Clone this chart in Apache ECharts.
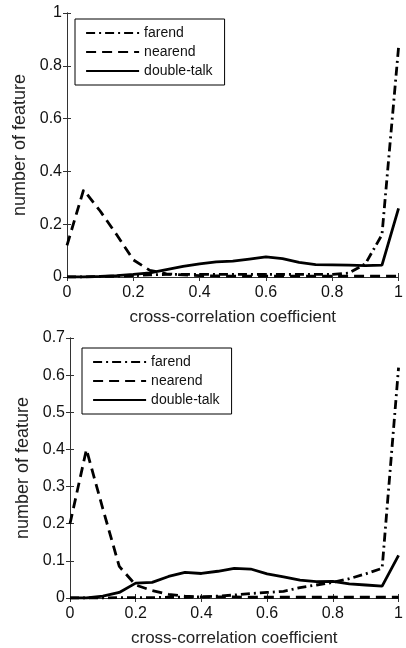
<!DOCTYPE html>
<html>
<head>
<meta charset="utf-8">
<script src="https://cdn.jsdelivr.net/npm/echarts@6/dist/echarts.min.js"></script>
<style>
  html, body { margin: 0; padding: 0; background: #fff; }
  #chart { width: 406px; height: 648px; }
</style>
</head>
<body>
<div id="chart"></div>
<script>
var coefX = [0, 0.05, 0.1, 0.15, 0.2, 0.25, 0.3, 0.35, 0.4, 0.45, 0.5, 0.55, 0.6, 0.65, 0.7, 0.75, 0.8, 0.85, 0.9, 0.95, 1];

// upper panel
var farendTop = [0, 0, 0.002, 0.003, 0.005, 0.008, 0.01, 0.01, 0.01, 0.01, 0.01, 0.01, 0.01, 0.01, 0.01, 0.01, 0.01, 0.015, 0.05, 0.16, 0.87];
var nearendTop = [0.12, 0.33, 0.25, 0.16, 0.065, 0.025, 0.012, 0.008, 0.005, 0.004, 0.003, 0.003, 0.003, 0.003, 0.003, 0.003, 0.003, 0.003, 0.003, 0.003, 0.003];
var doubleTop = [0, 0, 0.002, 0.005, 0.01, 0.016, 0.028, 0.04, 0.05, 0.057, 0.06, 0.068, 0.076, 0.07, 0.055, 0.047, 0.046, 0.045, 0.043, 0.045, 0.26];

// lower panel
var farendBot = [0, 0, 0, 0.001, 0.001, 0.001, 0.002, 0.002, 0.003, 0.005, 0.008, 0.012, 0.015, 0.018, 0.028, 0.035, 0.042, 0.052, 0.065, 0.08, 0.62];
var nearendBot = [0.2, 0.4, 0.24, 0.085, 0.035, 0.02, 0.01, 0.005, 0.003, 0.003, 0.003, 0.002, 0.002, 0.002, 0.002, 0.002, 0.002, 0.002, 0.002, 0.002, 0.002];
var doubleBot = [0, 0, 0.005, 0.015, 0.04, 0.042, 0.058, 0.069, 0.066, 0.072, 0.08, 0.078, 0.065, 0.057, 0.048, 0.044, 0.045, 0.038, 0.035, 0.032, 0.115];

var legendNames = ['farend', 'nearend', 'double-talk'];

function pairs(ys) {
    var out = [];
    for (var i = 0; i < coefX.length; i++) {
        out.push([coefX[i], ys[i]]);
    }
    return out;
}

var fontName = '"Liberation Sans", Arial, sans-serif';
var axisColor = '#333';

function bottomAxis(grid) {
    return {
        type: 'value', gridIndex: grid, min: 0, max: 1, interval: 0.2,
        name: 'cross-correlation coefficient', nameLocation: 'middle', nameGap: 32,
        nameTextStyle: { fontFamily: fontName, fontSize: 17, color: '#222' },
        axisLine: { lineStyle: { color: axisColor, width: 1 } },
        axisTick: { inside: true, length: 4, lineStyle: { color: axisColor } },
        axisLabel: { margin: 8, fontFamily: fontName, fontSize: 16, color: '#111' },
        splitLine: { show: false }
    };
}

function topAxis(grid) {
    return {
        type: 'value', gridIndex: grid, position: 'top', min: 0, max: 1, interval: 0.2,
        axisLine: { lineStyle: { color: axisColor, width: 1 } },
        axisTick: { inside: true, length: 4, lineStyle: { color: axisColor } },
        axisLabel: { show: false },
        splitLine: { show: false }
    };
}

function leftAxis(grid, max, step) {
    return {
        type: 'value', gridIndex: grid, min: 0, max: max, interval: step,
        name: 'number of feature', nameLocation: 'middle', nameGap: 30,
        nameTextStyle: { fontFamily: fontName, fontSize: 18, color: '#222' },
        axisLine: { show: true, lineStyle: { color: axisColor, width: 1 } },
        axisTick: { show: true, inside: true, length: 4, lineStyle: { color: axisColor } },
        axisLabel: { margin: 5, fontFamily: fontName, fontSize: 16, color: '#111' },
        splitLine: { show: false }
    };
}

function rightAxis(grid, max, step) {
    return {
        type: 'value', gridIndex: grid, position: 'right', min: 0, max: max, interval: step,
        axisLine: { show: true, lineStyle: { color: axisColor, width: 1 } },
        axisTick: { show: true, inside: true, length: 4, lineStyle: { color: axisColor } },
        axisLabel: { show: false },
        splitLine: { show: false }
    };
}

function makeLine(name, ys, xi, yi, dash) {
    return {
        name: name, type: 'line', xAxisIndex: xi, yAxisIndex: yi,
        data: pairs(ys), symbol: 'none', silent: true, animation: false,
        itemStyle: { color: '#000' },
        lineStyle: { color: '#000', width: 2.8, type: dash }
    };
}

function makeLegend(left, top) {
    return {
        orient: 'vertical', left: left, top: top,
        data: legendNames,
        itemWidth: 53, itemHeight: 14, itemGap: 5,
        padding: [7, 12, 7, 10],
        borderColor: '#000', borderWidth: 1, borderRadius: 0,
        backgroundColor: '#fff',
        itemStyle: { opacity: 0 },
        lineStyle: { width: 2.2 },
        textStyle: { fontFamily: fontName, fontSize: 14, color: '#111' }
    };
}

var dashDot = [9, 4, 2, 4];
var dashed = [10, 6];

var myChart = echarts.init(document.getElementById('chart'));

var option = {
    animation: false,
    backgroundColor: '#fff',
    grid: [
        { left: 67, top: 13, width: 337, height: 264 },
        { left: 70, top: 338, width: 334, height: 262 }
    ],
    legend: [makeLegend(75, 19), makeLegend(82, 348)],
    xAxis: [bottomAxis(0), topAxis(0), bottomAxis(1), topAxis(1)],
    yAxis: [leftAxis(0, 1, 0.2), rightAxis(0, 1, 0.2), leftAxis(1, 0.7, 0.1), rightAxis(1, 0.7, 0.1)],
    series: [
        makeLine('farend', farendTop, 0, 0, dashDot),
        makeLine('nearend', nearendTop, 0, 0, dashed),
        makeLine('double-talk', doubleTop, 0, 0, 'solid'),
        makeLine('farend', farendBot, 2, 2, dashDot),
        makeLine('nearend', nearendBot, 2, 2, dashed),
        makeLine('double-talk', doubleBot, 2, 2, 'solid')
    ]
};

myChart.setOption(option);
</script>
</body>
</html>
